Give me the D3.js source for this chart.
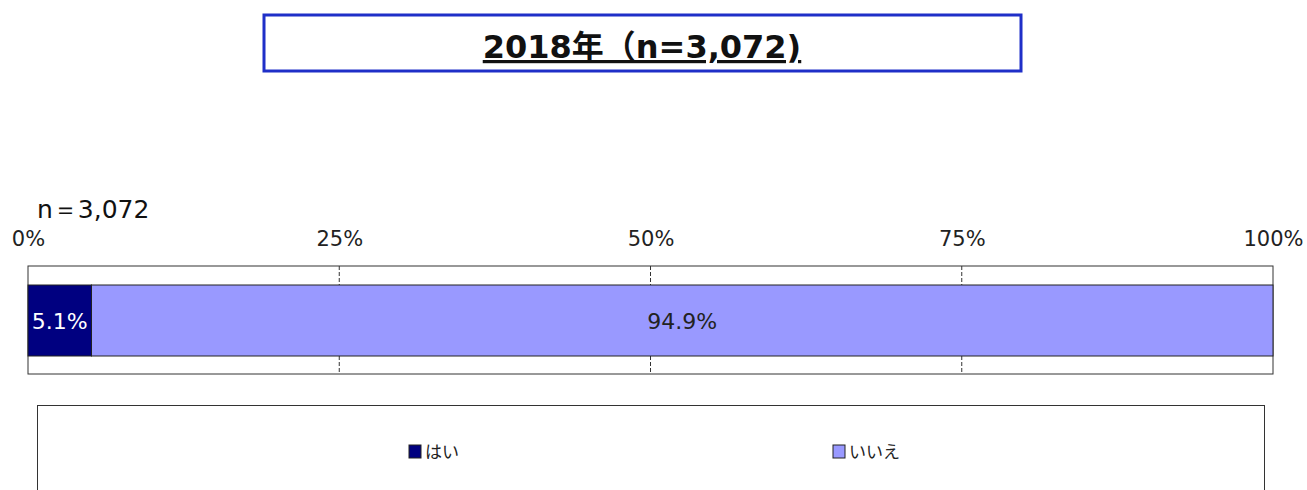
<!DOCTYPE html>
<html>
<head>
<meta charset="utf-8">
<script src="https://cdn.jsdelivr.net/npm/d3@7"></script>
<style>
  body { margin: 0; background: #fff; }
  svg text { font-family: "DejaVu Sans", Verdana, sans-serif; }
  .jp { font-family: "Noto Sans CJK JP", sans-serif !important; }
  .title { font-family: "DejaVu Sans", "Noto Sans CJK JP", sans-serif !important; }
</style>
</head>
<body>
<div id="chart"></div>
<script>
const categories = ['はい', 'いいえ']
const values = [5.1, 94.9]
const colors = ['#000080', '#9999ff']
const labelColors = ['#ffffff', '#222222']
const tickValues = [0, 25, 50, 75, 100]
const titleText = '2018年（n=3,072)'
const nText = 'n＝3,072'

const width = 1307
const height = 490

const svg = d3.select('#chart').append('svg')
  .attr('width', width)
  .attr('height', height)

// title box
svg.append('rect')
  .attr('x', 264).attr('y', 15)
  .attr('width', 757).attr('height', 56)
  .attr('fill', '#fff')
  .attr('stroke', '#1f2fc8')
  .attr('stroke-width', 3)

svg.append('text')
  .attr('class', 'title')
  .attr('x', 642).attr('y', 58)
  .attr('text-anchor', 'middle')
  .attr('font-size', 32)
  .attr('font-weight', 'bold')
  .attr('text-decoration', 'underline')
  .attr('fill', '#111')
  .text(titleText)

svg.append('text')
  .attr('x', 37).attr('y', 218)
  .attr('font-size', 25)
  .attr('fill', '#111')
  .text(nText)

// plot area
const plot = { left: 28, right: 1273, top: 266, bottom: 374 }
const x = d3.scaleLinear().domain([0, 100]).range([plot.left, plot.right])

svg.append('rect')
  .attr('x', plot.left).attr('y', plot.top)
  .attr('width', plot.right - plot.left)
  .attr('height', plot.bottom - plot.top)
  .attr('fill', '#fff')
  .attr('stroke', '#333')
  .attr('stroke-width', 1)

svg.selectAll('.grid')
  .data(tickValues.filter(d => d > 0 && d < 100))
  .enter().append('line')
  .attr('x1', d => x(d)).attr('x2', d => x(d))
  .attr('y1', plot.top).attr('y2', plot.bottom)
  .attr('stroke', '#333')
  .attr('stroke-dasharray', '4,2')

// top axis labels
const axis = d3.axisTop(x)
  .tickValues(tickValues)
  .tickFormat(d => d + '%')
  .tickSize(0)
  .tickPadding(0)

svg.append('g')
  .attr('transform', 'translate(0,246)')
  .call(axis)
  .call(g => g.select('.domain').remove())
  .selectAll('text')
  .attr('font-size', 21)
  .attr('fill', '#222')
  .attr('dy', 0)

// stacked bar
const stacked = values.map((v, i) => {
  const start = d3.sum(values.slice(0, i))
  return { name: categories[i], value: v, start: start, end: start + v, color: colors[i], labelColor: labelColors[i] }
})

const barTop = 285
const barH = 71

svg.selectAll('.seg')
  .data(stacked)
  .enter().append('rect')
  .attr('x', d => x(d.start))
  .attr('y', barTop)
  .attr('width', d => x(d.end) - x(d.start))
  .attr('height', barH)
  .attr('fill', d => d.color)
  .attr('stroke', '#222')
  .attr('stroke-width', 1)

svg.selectAll('.segLabel')
  .data(stacked)
  .enter().append('text')
  .attr('x', d => (x(d.start) + x(d.end)) / 2)
  .attr('y', barTop + barH / 2 + 8)
  .attr('text-anchor', 'middle')
  .attr('font-size', 22)
  .attr('fill', d => d.labelColor)
  .text(d => d.value.toFixed(1) + '%')

// legend
svg.append('rect')
  .attr('x', 37.5).attr('y', 405.5)
  .attr('width', 1227).attr('height', 100)
  .attr('fill', '#fff')
  .attr('stroke', '#333')
  .attr('stroke-width', 1)

const legendX = [409, 833]
const legend = svg.selectAll('.legend')
  .data(stacked)
  .enter().append('g')
  .attr('transform', (d, i) => `translate(${legendX[i]},445)`)

legend.append('rect')
  .attr('width', 12).attr('height', 13)
  .attr('fill', d => d.color)
  .attr('stroke', '#222')
  .attr('stroke-width', 1)

legend.append('text')
  .attr('class', 'jp')
  .attr('x', 16).attr('y', 13)
  .attr('font-size', 17)
  .attr('fill', '#222')
  .text(d => d.name)
</script>
</body>
</html>
